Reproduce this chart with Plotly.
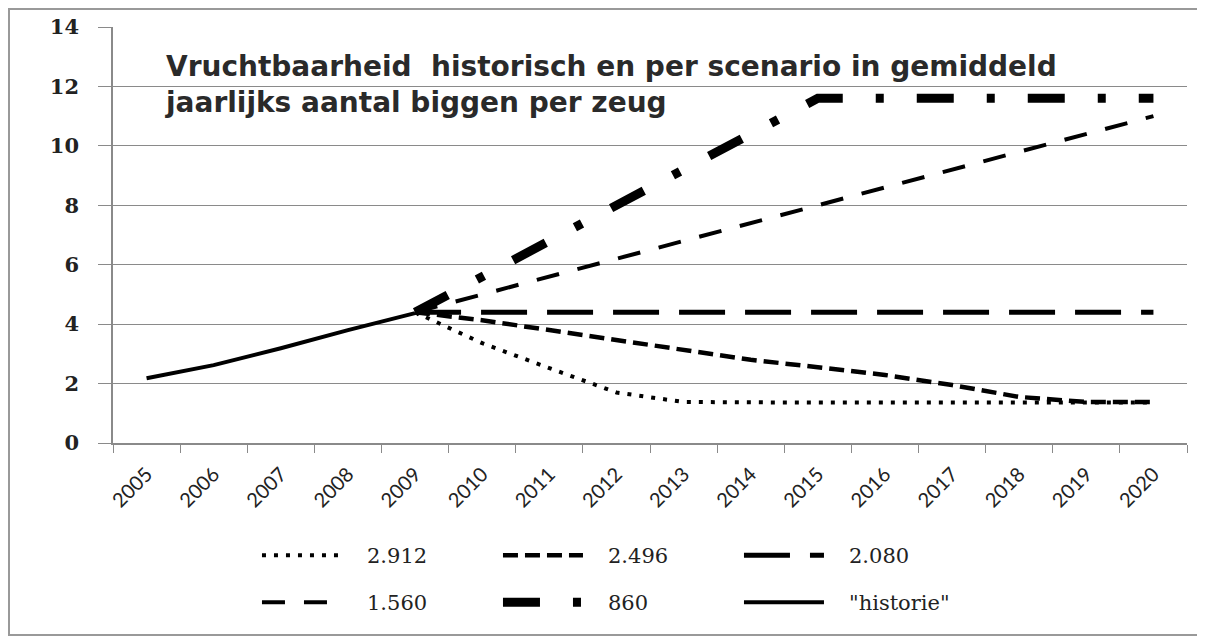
import plotly.graph_objects as go

years = [str(y) for y in range(2005, 2021)]
scen_years = [str(y) for y in range(2009, 2021)]
hist_years = [str(y) for y in range(2005, 2010)]

historie = [2.18, 2.62, 3.19, 3.8, 4.37]
s2912 = [4.4, 3.36, 2.52, 1.7, 1.38, 1.36, 1.36, 1.36, 1.36, 1.36, 1.36, 1.36]
s2496 = [4.4, 4.13, 3.8, 3.46, 3.14, 2.8, 2.55, 2.29, 1.95, 1.55, 1.38, 1.38]
s2080 = [4.4, 4.4, 4.4, 4.4, 4.4, 4.4, 4.4, 4.4, 4.4, 4.4, 4.4, 4.4]
s1560 = [4.4, 5.0, 5.6, 6.2, 6.8, 7.4, 8.0, 8.6, 9.2, 9.8, 10.4, 11.0]
s860 = [4.4, 5.6, 6.8, 8.0, 9.2, 10.4, 11.6, 11.6, 11.6, 11.6, 11.6, 11.6]

names = ["2.912", "2.496", "2.080", "1.560", "860", '"historie"']
title_text = "Vruchtbaarheid  historisch en per scenario in gemiddeld<br>jaarlijks aantal biggen per zeug"

pad = "\u00a0\u00a0\u00a0"

fig = go.Figure()

series = [
    (scen_years, s2912, names[0], 4, "4px,8px", "legend"),
    (scen_years, s2496, names[1], 4.5, "15px,7px", "legend"),
    (scen_years, s2080, names[2], 5, "46px,20px", "legend"),
    (scen_years, s1560, names[3], 4, "23px,19px", "legend2"),
    (scen_years, s860, names[4], 9, "37px,33px,8px,33px", "legend2"),
    (hist_years, historie, names[5], 4, "solid", "legend2"),
]
for x, y, n, w, d, lg in series:
    fig.add_trace(go.Scatter(x=x, y=y, name=pad + n, mode="lines", legend=lg,
                             line=dict(color="black", width=w, dash=d)))

axcol = "#8a8a8a"
fig.update_xaxes(type="category", categoryorder="array", categoryarray=years,
                 range=[-0.5, 15.5], tickson="boundaries", ticks="outside", ticklen=8,
                 tickcolor=axcol, showline=True, linecolor=axcol, linewidth=1.5,
                 showgrid=False, tickangle=-45, automargin=False, ticklabelstandoff=10,
                 tickfont=dict(family="Lato", size=20, color="#222"))
fig.update_yaxes(range=[0, 14], dtick=2, ticks="outside", ticklen=13, tickcolor=axcol,
                 showline=True, linecolor=axcol, linewidth=1.5, showgrid=True,
                 gridcolor=axcol, gridwidth=1, zeroline=False, ticklabelstandoff=15,
                 automargin=False,
                 tickfont=dict(family="DejaVu Serif", size=21, color="#222", weight="bold"))

W, H = 1197, 629
L, R, T, B = 105, 18, 19, 194
pw, ph = W - L - R, H - T - B

legfont = dict(family="DejaVu Serif", size=21, color="#222")
leg_common = dict(orientation="h", xref="container", yref="container",
                  xanchor="left", yanchor="top",
                  entrywidth=146, entrywidthmode="pixels", itemwidth=80,
                  font=legfont, bgcolor="rgba(0,0,0,0)", traceorder="normal")
fig.update_layout(
    width=W, height=H,
    margin=dict(l=L, r=R, t=T, b=B, autoexpand=False),
    paper_bgcolor="white", plot_bgcolor="white",
    showlegend=True,
    legend=dict(x=0.208, y=0.162, **leg_common),
    legend2=dict(x=0.208, y=0.0874, **leg_common),
    annotations=[dict(text=title_text, xref="paper", yref="paper", x=(155 - L) / pw,
                      y=(ph + T - 40) / ph, xanchor="left", yanchor="top",
                      align="left", showarrow=False,
                      font=dict(family="DejaVu Sans", size=28, color="#2a2a2a", weight="bold"))],
    shapes=[dict(type="rect", xref="paper", yref="paper",
                 x0=(1 - L) / pw, x1=(1195 - L) / pw,
                 y0=(ph + T - 627) / ph, y1=(ph + T - 1) / ph,
                 line=dict(color="#999", width=2), layer="below")],
)

fig.write_html("out.html")
